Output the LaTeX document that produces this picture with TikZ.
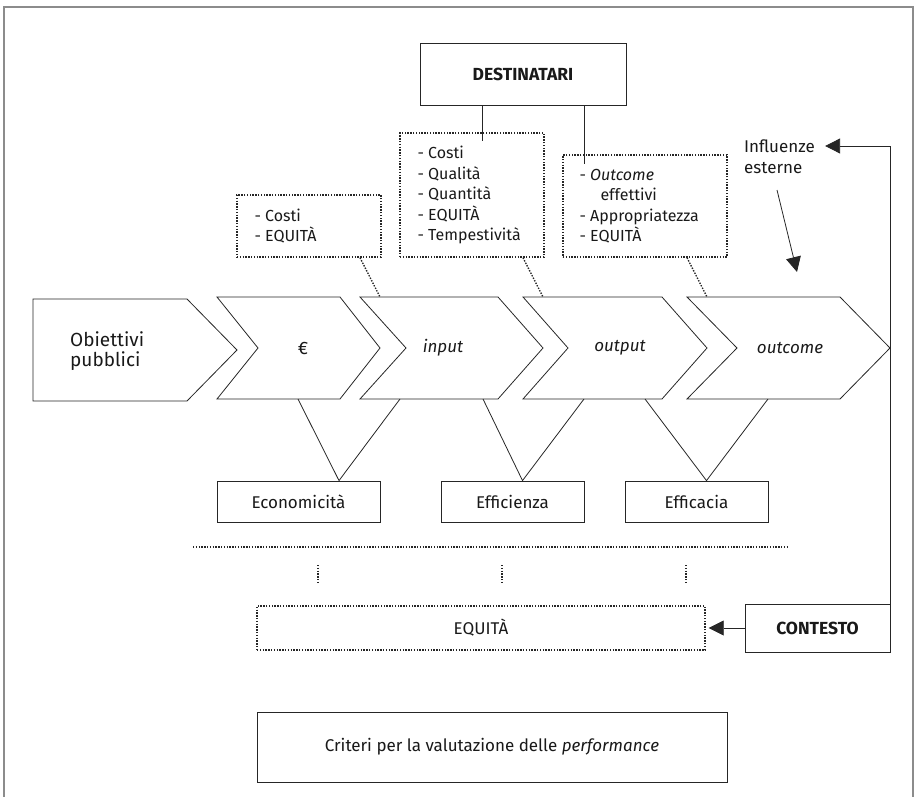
\documentclass[tikz,border=0pt]{standalone}
\usepackage{fontspec}
\setmainfont{Fira Sans}
\usetikzlibrary{arrows.meta}

\begin{document}
\begin{tikzpicture}[x=1pt, y=-1pt,
  ln/.style={draw=black!85, line width=0.8pt},
  frame/.style={draw=black!45, line width=1.6pt},
  box/.style={ln, rectangle, inner sep=0pt, fill=white},
  dotbox/.style={draw=black!85, line width=1.4pt, dash pattern=on 1.4pt off 1.4pt, rectangle, inner sep=0pt},
  dotln/.style={draw=black!85, line width=1.4pt, dash pattern=on 1.4pt off 1.4pt},
  chev/.style={ln, line join=miter},
  txt/.style={font=\fontsize{17}{20}\selectfont, text=black!90, inner sep=0pt},
  list/.style={txt, font=\fontsize{16}{20.5}\selectfont, align=left, anchor=west},
  lab/.style={txt, font=\fontsize{17}{20}\selectfont\itshape},
  bold/.style={txt, font=\fontsize{17.5}{20}\selectfont\bfseries},
  bigarrow/.style={ln, -{Triangle[length=15pt, width=15pt]}}
]
\useasboundingbox (0,0) rectangle (916,797);

% page frame, open at the bottom
\draw[frame] (4,797) -- (4,7) -- (913,7) -- (913,797);

% value chain
\draw[chev] (33,299) -- (187,299) -- (237,350) -- (187,401) -- (33,401) -- cycle;
\draw[chev] (217,297) -- (340,297) -- (380,348) -- (340,399) -- (217,399) -- (258,348) -- cycle;
\draw[chev] (360,297) -- (498,297) -- (543,348) -- (498,399) -- (360,399) -- (406,348) -- cycle;
\draw[chev] (523,297) -- (662,297) -- (707,348) -- (662,399) -- (523,399) -- (568,348) -- cycle;
\draw[chev] (687,297) -- (840,297) -- (890,348) -- (840,399) -- (687,399) -- (737,348) -- cycle;

\node[txt, font=\fontsize{19}{20}\selectfont, align=left, anchor=west] (obj) at (70,351) {Obiettivi\\pubblici};
\node[txt, font=\fontsize{18}{20}\selectfont] (eur) at (303,348) {€};
\node[lab] (inp) at (443,348) {input};
\node[lab] (outp) at (620,348) {output};
\node[lab] (outc) at (790,348) {outcome};

% evaluation criteria
\node[box, minimum width=163pt, minimum height=41pt] (eco) at (298.5,501.5) {};
\node[txt] at (eco) {Economicità};
\node[box, minimum width=143pt, minimum height=41pt] (effz) at (512.5,501.5) {};
\node[txt] at (effz) {Efficienza};
\node[box, minimum width=143pt, minimum height=41pt] (effc) at (696.5,501.5) {};
\node[txt] at (effc) {Efficacia};

\coordinate (eco-a) at (298,399);  \coordinate (eco-b) at (400,399);
\coordinate (effz-a) at (483,399); \coordinate (effz-b) at (584,399);
\coordinate (effc-a) at (645,399); \coordinate (effc-b) at (768,399);
\draw[ln] (eco-a) -- ([xshift=40.5pt]eco.north) -- (eco-b);
\draw[ln] (effz-a) -- ([xshift=10pt]effz.north) -- (effz-b);
\draw[ln] (effc-a) -- ([xshift=10pt]effc.north) -- (effc-b);

% dimensions measured at each stage
\node[dotbox, minimum width=144pt, minimum height=62pt] (lbox) at (309,226) {};
\node[list] at ([xshift=18pt]lbox.west) {- Costi\\- EQUITÀ};
\node[dotbox, minimum width=144pt, minimum height=124pt] (mbox) at (472,195) {};
\node[list] at ([xshift=18pt]mbox.west) {- Costi\\- Qualità\\- Quantità\\- EQUITÀ\\- Tempestività};
\node[dotbox, minimum width=164pt, minimum height=102pt] (rbox) at (645,206) {};
\node[list] at ([xshift=17pt]rbox.west) {- \textit{Outcome}\\\hspace*{21pt}effettivi\\- Appropriatezza\\- EQUITÀ};

\coordinate (lbox-c) at (380,297);
\coordinate (mbox-c) at (543,297);
\coordinate (rbox-c) at (707,297);
\draw[dotln] ([xshift=51pt]lbox.south) -- (lbox-c);
\draw[dotln] ([xshift=51pt]mbox.south) -- (mbox-c);
\draw[dotln] ([xshift=42pt]rbox.south) -- (rbox-c);

% recipients
\node[box, minimum width=206pt, minimum height=62pt] (dest) at (523,74) {};
\node[bold] at (dest) {DESTINATARI};
\draw[ln] ([xshift=-41pt]dest.south) -- ([xshift=10pt, yshift=-9pt]mbox.north);
\draw[ln] ([xshift=61pt]dest.south) -- ([xshift=-61pt, yshift=-10pt]rbox.north);

% equity line
\coordinate (eq-l) at (193,547);
\coordinate (eq-r) at (787,547);
\draw[dotln] (eq-l) -- (eq-r);
\foreach \x [count=\i] in {318,502,686} {
  \coordinate (vt\i) at (\x,565);
  \coordinate (vb\i) at (\x,583);
  \draw[dotln] (vt\i) -- (vb\i);
}
\node[dotbox, minimum width=448pt, minimum height=44pt] (eq) at (481,628) {};
\node[txt] at (eq) {EQUITÀ};

% context
\node[box, minimum width=145pt, minimum height=48pt] (ctx) at (817.5,628) {};
\node[bold] at (ctx) {CONTESTO};
\draw[bigarrow] (ctx.west) -- ([xshift=3pt]eq.east);

% external influences
\node[txt, anchor=west] (infl1) at (744,146) {Influenze};
\node[txt, anchor=west] (infl2) at (744,168) {esterne};
\draw[bigarrow] (ctx.north east) |- ([xshift=10pt]infl1.east);
\coordinate (ext-from) at (777,190);
\coordinate (ext-to) at (797,272);
\draw[bigarrow] (ext-from) -- (ext-to);

% caption
\node[box, minimum width=470pt, minimum height=70pt] (crit) at (492,747) {};
\node[txt] at (crit) {Criteri per la valutazione delle \textit{performance}};
\end{tikzpicture}
\end{document}
